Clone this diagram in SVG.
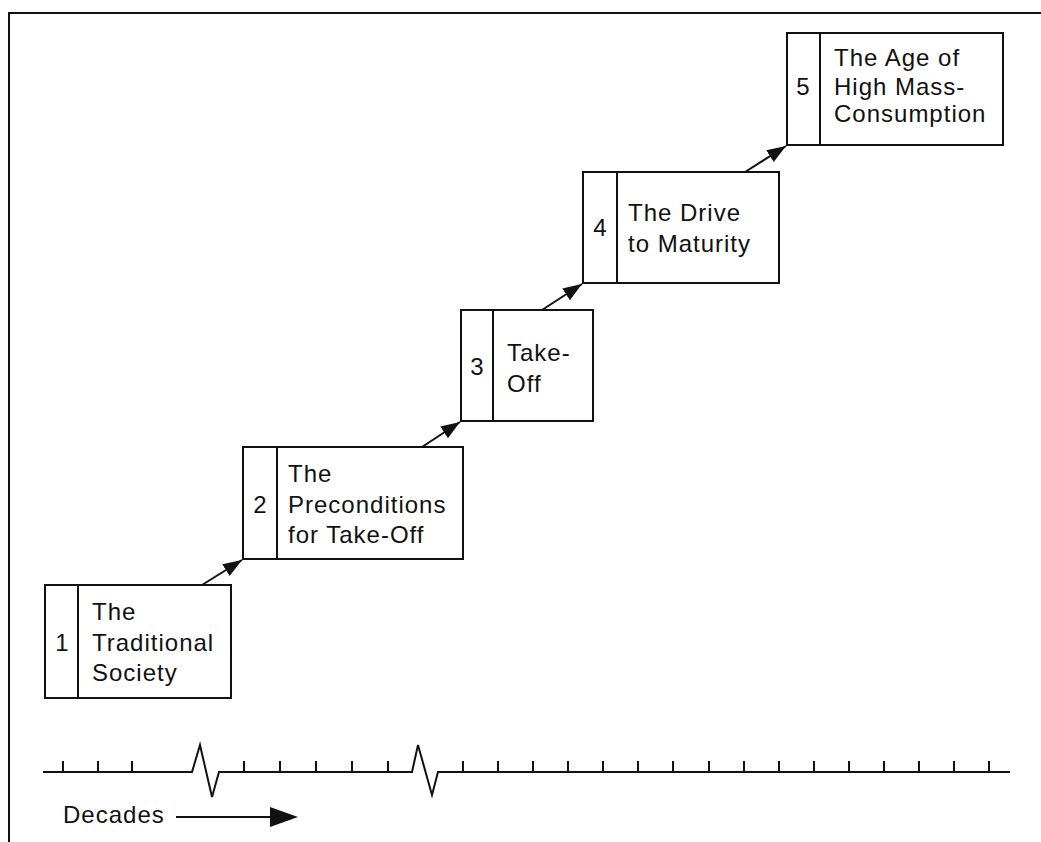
<svg xmlns="http://www.w3.org/2000/svg" width="1041" height="842" viewBox="0 0 1041 842">
  <style>
    .box { fill: #fff; stroke: #111; stroke-width: 2; }
    .div { stroke: #111; stroke-width: 2; }
    .lbl { font-family: "Liberation Sans", Arial, sans-serif; font-size: 24px; letter-spacing: 1px; fill: #111; }
    .num { font-family: "Liberation Sans", Arial, sans-serif; font-size: 24px; fill: #111; text-anchor: middle; }
    .con { stroke: #111; stroke-width: 2; fill: none; }
    .axis { stroke: #111; stroke-width: 2; fill: none; }
  </style>
  <defs>
    <marker id="ah" markerUnits="userSpaceOnUse" markerWidth="20" markerHeight="16" refX="19" refY="7" orient="auto">
      <path d="M0,0 L19,7 L0,14 z" fill="#111"/>
    </marker>
  </defs>
  <rect width="1041" height="842" fill="#fff"/>
  <!-- frame -->
  <path d="M9,842 V13 H1041" class="axis"/>

  <g id="node1">
    <rect class="box" x="45" y="585" width="186" height="113"/>
    <line class="div" x1="78" y1="585" x2="78" y2="698"/>
    <text class="num" x="62" y="651">1</text>
    <text class="lbl" x="92" y="620">The</text>
    <text class="lbl" x="92" y="651">Traditional</text>
    <text class="lbl" x="92" y="681">Society</text>
  </g>
  <g id="node2">
    <rect class="box" x="243" y="447" width="220" height="112"/>
    <line class="div" x1="277" y1="447" x2="277" y2="559"/>
    <text class="num" x="260" y="513">2</text>
    <text class="lbl" x="288" y="482">The</text>
    <text class="lbl" x="288" y="513">Preconditions</text>
    <text class="lbl" x="288" y="543">for Take-Off</text>
  </g>
  <g id="node3">
    <rect class="box" x="461" y="310" width="132" height="111"/>
    <line class="div" x1="493" y1="310" x2="493" y2="421"/>
    <text class="num" x="477" y="375">3</text>
    <text class="lbl" x="507" y="361">Take-</text>
    <text class="lbl" x="507" y="392">Off</text>
  </g>
  <g id="node4">
    <rect class="box" x="583" y="172" width="196" height="111"/>
    <line class="div" x1="617" y1="172" x2="617" y2="283"/>
    <text class="num" x="600" y="236">4</text>
    <text class="lbl" x="628" y="221">The Drive</text>
    <text class="lbl" x="628" y="252">to Maturity</text>
  </g>
  <g id="node5">
    <rect class="box" x="787" y="33" width="216" height="112"/>
    <line class="div" x1="820" y1="33" x2="820" y2="145"/>
    <text class="num" x="803" y="95">5</text>
    <text class="lbl" x="834" y="66">The Age of</text>
    <text class="lbl" x="834" y="95">High Mass-</text>
    <text class="lbl" x="834" y="122">Consumption</text>
  </g>

  <g id="connectors">
    <line class="con" x1="202" y1="585" x2="242" y2="560" marker-end="url(#ah)"/>
    <line class="con" x1="422" y1="447" x2="460" y2="422" marker-end="url(#ah)"/>
    <line class="con" x1="542" y1="310" x2="582" y2="284" marker-end="url(#ah)"/>
    <line class="con" x1="745" y1="172" x2="786" y2="146" marker-end="url(#ah)"/>
  </g>

  <g id="timeline">
    <path class="axis" d="M43,772 H192 L200,745 L212,797 L219,772 H412 L418,745 L432,795 L438,772 H1010"/>
    <path class="axis" d="M63,761 V772 M98,761 V772 M132,761 V772 M244,761 V772 M280,761 V772 M316,761 V772 M352,761 V772 M388,761 V772 M463,761 V772 M498,761 V772 M533,761 V772 M568,761 V772 M603,761 V772 M638,761 V772 M673,761 V772 M709,761 V772 M744,761 V772 M779,761 V772 M814,761 V772 M849,761 V772 M884,761 V772 M919,761 V772 M954,761 V772 M989,761 V772"/>
    <text class="lbl" x="63" y="823">Decades</text>
    <line class="axis" x1="176" y1="817" x2="272" y2="817"/>
    <path d="M270,807 L298,817 L270,827 z" fill="#111"/>
  </g>
</svg>
